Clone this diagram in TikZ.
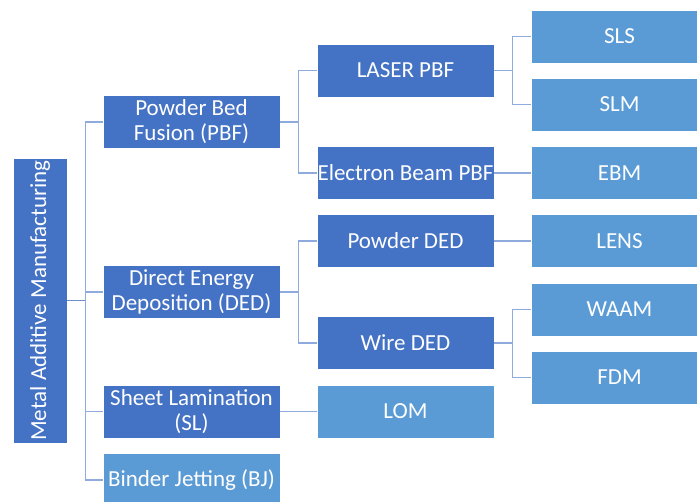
\documentclass[tikz,border=0pt]{standalone}
\usepackage{fontspec}
\setmainfont{Carlito}
\usepackage{xcolor}
\definecolor{mamdark}{HTML}{4472C4}
\definecolor{mamlight}{HTML}{5B9BD5}
\definecolor{mamline}{HTML}{8FAADC}
\usepackage{tikz}
\usetikzlibrary{positioning}

\begin{document}
\begin{tikzpicture}[
  x=1pt, y=-1pt,
  box/.style={rectangle, draw=white, line width=0.6pt,
    text=white, minimum width=177pt, minimum height=53pt,
    inner sep=0.5pt, align=center,
    font=\fontsize{23}{25}\selectfont},
  darkbox/.style={box, fill=mamdark},
  lightbox/.style={box, fill=mamlight},
  link/.style={draw=mamline, line width=1.2pt}
]
  \useasboundingbox (0,0) rectangle (697,502);

  % root
  \node[darkbox, rotate=90, minimum width=285pt, minimum height=54pt]
    (root) at (40,300.5) {Metal Additive Manufacturing};

  % first level
  \node[darkbox] (pbf) at (191.5,122) {Powder Bed\\Fusion (PBF)};
  \node[darkbox] (ded) at (191.5,292) {Direct Energy\\Deposition (DED)};
  \node[darkbox] (sl)  at (191.5,411.5) {Sheet Lamination\\(SL)};
  \node[lightbox] (bj) at (191.5,480) {Binder Jetting (BJ)};

  % second level
  \node[darkbox] (laser)  at (405.5,70.5)  {LASER PBF};
  \node[darkbox] (ebeam)  at (405.5,173)   {Electron Beam PBF};
  \node[darkbox] (powder) at (405.5,241)   {Powder DED};
  \node[darkbox] (wire)   at (405.5,343)   {Wire DED};
  \node[lightbox] (lom)   at (405.5,411.5) {LOM};

  % third level
  \node[lightbox] (sls)  at (619.5,36.5)  {SLS};
  \node[lightbox] (slm)  at (619.5,104.5) {SLM};
  \node[lightbox] (ebm)  at (619.5,173)   {EBM};
  \node[lightbox] (lens) at (619.5,241)   {LENS};
  \node[lightbox] (waam) at (619.5,309.5) {WAAM};
  \node[lightbox] (fdm)  at (619.5,377.5) {FDM};

  % connectors
  \draw[link, draw=mamdark!80] (root.south) -- ++(18,0) coordinate (rootfork);
  \foreach \n in {pbf,ded,sl,bj}
    \draw[link] (rootfork) |- (\n.west);

  \draw[link] (pbf.east) -- ++(18,0) coordinate (pbffork);
  \foreach \n in {laser,ebeam}
    \draw[link] (pbffork) |- (\n.west);

  \draw[link] (ded.east) -- ++(18,0) coordinate (dedfork);
  \foreach \n in {powder,wire}
    \draw[link] (dedfork) |- (\n.west);

  \draw[link] (sl.east) -- (lom.west);

  \draw[link] (laser.east) -- ++(18,0) coordinate (laserfork);
  \foreach \n in {sls,slm}
    \draw[link] (laserfork) |- (\n.west);

  \draw[link] (ebeam.east) -- (ebm.west);
  \draw[link] (powder.east) -- (lens.west);

  \draw[link] (wire.east) -- ++(18,0) coordinate (wirefork);
  \foreach \n in {waam,fdm}
    \draw[link] (wirefork) |- (\n.west);
\end{tikzpicture}
\end{document}
